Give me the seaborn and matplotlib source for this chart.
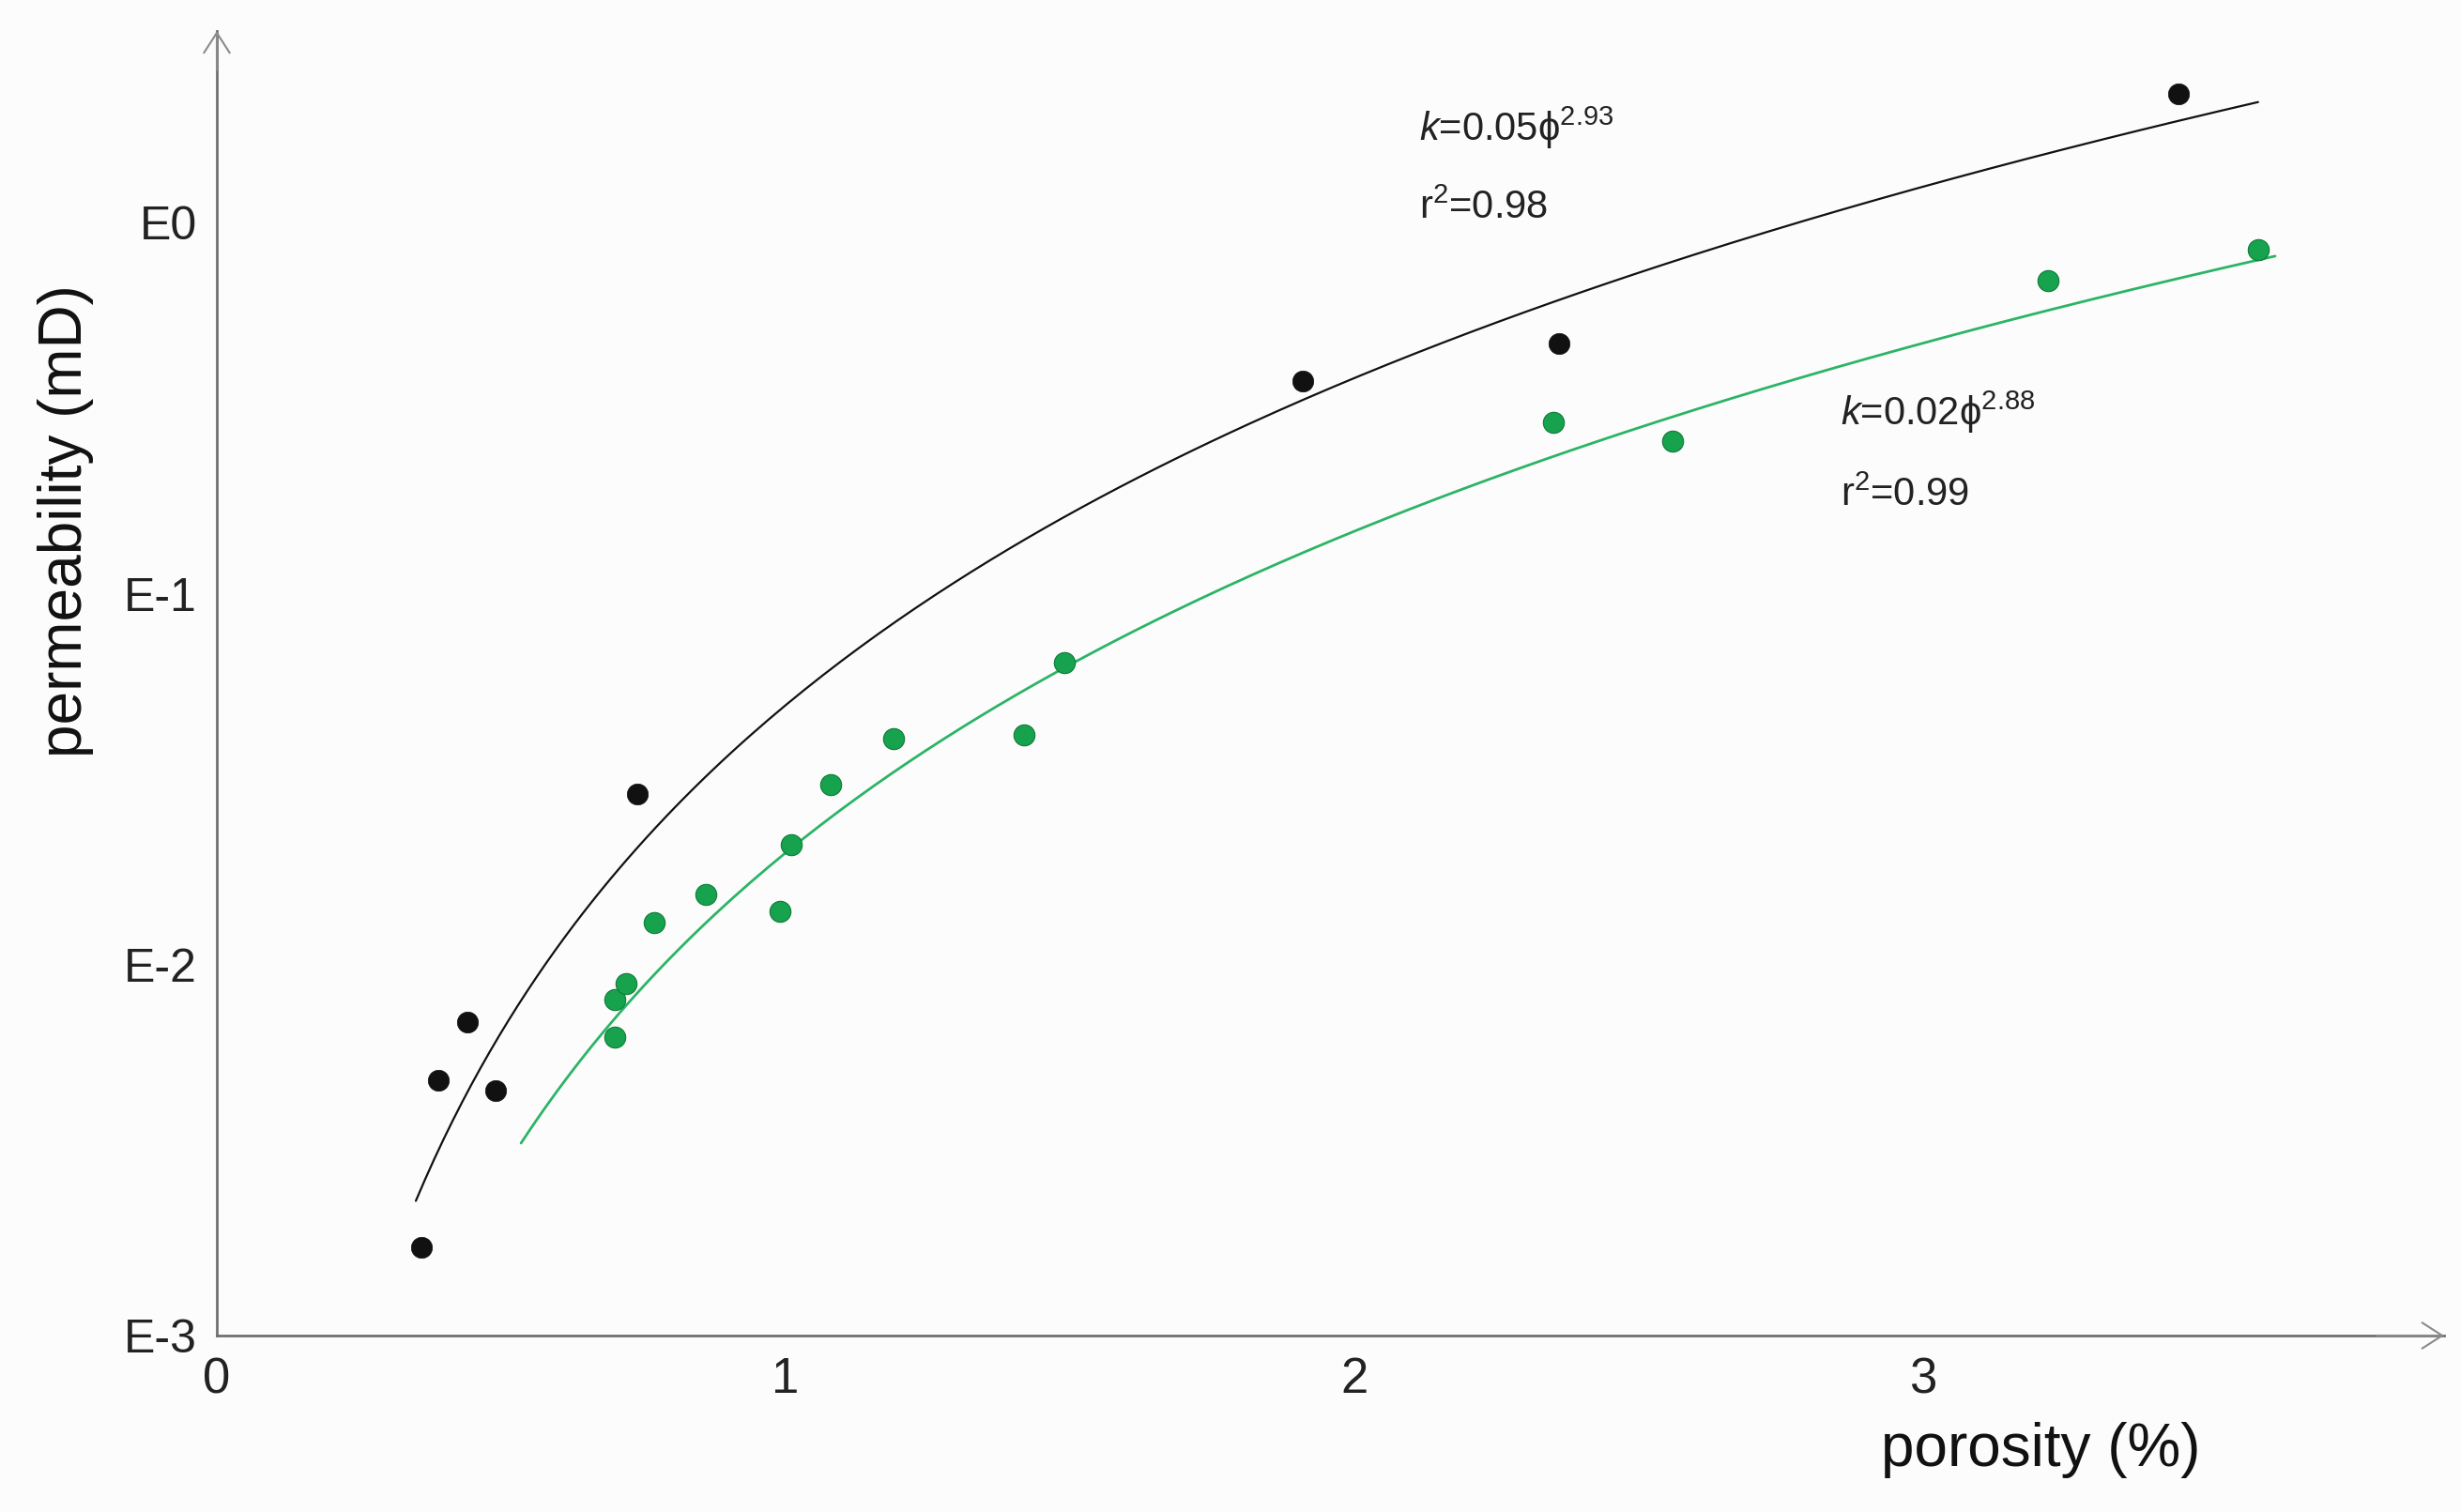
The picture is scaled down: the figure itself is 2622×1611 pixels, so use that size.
import matplotlib
matplotlib.use("Agg")
import matplotlib.pyplot as plt
import numpy as np
import pandas as pd
import seaborn as sns

# measured samples (porosity %, permeability mD)
black_phi = [0.36, 0.39, 0.44, 0.49, 0.74, 1.91, 2.36, 3.45]
black_k = [0.00173, 0.00489, 0.00701, 0.00457, 0.0288, 0.374, 0.472, 2.22]

green_phi = [0.70, 0.70, 0.72, 0.77, 0.86, 0.99, 1.01, 1.08, 1.19, 1.42, 1.49,
             2.35, 2.56, 3.22, 3.59]
green_k = [0.00637, 0.00804, 0.00887, 0.0130, 0.0155, 0.0139, 0.0211, 0.0305,
           0.0406, 0.0417, 0.0653, 0.290, 0.258, 0.697, 0.847]

# power-law fits as printed on the chart: k = a * phi^b
fit_coef = [0.05, 0.02]
fit_exp = [2.93, 2.88]
fit_range = [(0.35, 3.59), (0.535, 3.62)]
fit_labels = [r"$\mathit{k}$=0.05$\mathrm{\phi}^{2.93}$",
              r"$\mathit{k}$=0.02$\mathrm{\phi}^{2.88}$"]
r2_labels = [r"r$^{2}$=0.98", r"r$^{2}$=0.99"]

y_ticks = [1e-3, 1e-2, 1e-1, 1]
y_ticklabels = ["E-3", "E-2", "E-1", "E0"]
x_ticks = [0, 1, 2, 3]

BLACK = "#111111"
GREEN_PT = "#17a24d"
GREEN_LN = "#2cb466"
AXIS_GREY = "#707070"

sns.set_theme(style="white")
plt.rcParams["font.family"] = ["Liberation Sans", "DejaVu Sans"]
plt.rcParams["mathtext.fontset"] = "custom"
plt.rcParams["mathtext.rm"] = "Liberation Sans"
plt.rcParams["mathtext.it"] = "Liberation Sans:italic"
plt.rcParams["mathtext.fallback"] = "stixsans"

fig = plt.figure(figsize=(26.22, 16.11), dpi=100, facecolor="#fcfcfc")
ax = fig.add_axes([0.0881, 0.1167, 0.905, 0.8628])
ax.set_facecolor("#fcfcfc")

curves = []
for i, (a, b) in enumerate(zip(fit_coef, fit_exp)):
    xs = np.linspace(*fit_range[i], 200)
    curves.append(pd.DataFrame({"phi": xs, "k": a * xs ** b}))
sns.lineplot(data=curves[0], x="phi", y="k", color=BLACK, lw=1.6, ax=ax)
sns.lineplot(data=curves[1], x="phi", y="k", color=GREEN_LN, lw=2.0, ax=ax)

sns.scatterplot(x=black_phi, y=black_k, color=BLACK, s=260, edgecolor=BLACK,
                linewidth=0.5, ax=ax, zorder=3)
sns.scatterplot(x=green_phi, y=green_k, color=GREEN_PT, s=260, edgecolor="#0f7a38",
                linewidth=0.8, ax=ax, zorder=3)

ax.set_yscale("log")
ax.set_xlim(0, 3.917)
ax.set_ylim(1e-3, 10 ** 0.517)
ax.set_yticks(y_ticks)
ax.set_yticklabels(y_ticklabels)
ax.yaxis.set_minor_locator(matplotlib.ticker.NullLocator())
ax.set_xticks(x_ticks)
ax.set_xticklabels([str(t) for t in x_ticks])
ax.tick_params(axis="both", which="major", direction="out", length=7, width=1.5,
               color=AXIS_GREY, labelsize=36, labelcolor="#222222", pad=8)
ax.tick_params(axis="x", labelsize=38, pad=9)

for side in ["top", "right"]:
    ax.spines[side].set_visible(False)
for side in ["left", "bottom"]:
    ax.spines[side].set_color(AXIS_GREY)
    ax.spines[side].set_linewidth(2.0)

arrow = dict(arrowstyle="->,head_length=0.7,head_width=0.45", color="#8a8a8a",
             lw=1.5, mutation_scale=22, shrinkA=0, shrinkB=0)
ax.annotate("", xy=(1.0, 0), xytext=(0.97, 0), xycoords="axes fraction",
            arrowprops=arrow, annotation_clip=False)
ax.annotate("", xy=(0, 1.0), xytext=(0, 0.97), xycoords="axes fraction",
            arrowprops=arrow, annotation_clip=False)

ax.set_xlabel("porosity (%)", fontsize=46, color="#111111")
ax.xaxis.set_label_coords(0.819, -0.066)
ax.set_ylabel("permeability (mD)", fontsize=46, color="#111111")
ax.yaxis.set_label_coords(-0.055, 0.6245)

ax.text(2.115, 10 ** 0.255, fit_labels[0], fontsize=30, color="#222222", va="center")
ax.text(2.115, 10 ** 0.039, r2_labels[0], fontsize=30, color="#222222", va="center")
ax.text(2.855, 10 ** -0.51, fit_labels[1], fontsize=30, color="#222222", va="center")
ax.text(2.855, 10 ** -0.735, r2_labels[1], fontsize=30, color="#222222", va="center")

fig.savefig("out.png", dpi=100, facecolor=fig.get_facecolor())
